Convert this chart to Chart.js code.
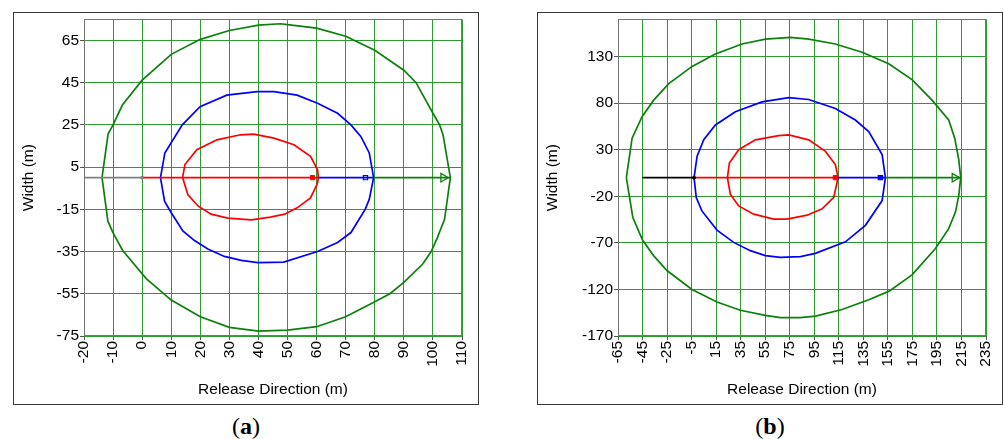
<!DOCTYPE html>
<html lang="en">
<head>
<meta charset="UTF-8">
<title>Release contours</title>
<script src="https://cdn.jsdelivr.net/npm/chart.js@4.4.1/dist/chart.umd.min.js"></script>
<style>
    body { margin: 0; background: #fff; width: 1004px; height: 439px; position: relative; overflow: hidden; }
    .frame { position: absolute; top: 12px; width: 466px; height: 393px; box-sizing: border-box; border: 1px solid #3a3a3a; }
    .frame canvas { position: absolute; left: 0; top: 0; }
    .caption { position: absolute; top: 412px; width: 100px; text-align: center; font: 24px 'Liberation Serif', serif; line-height: 28px; color: #000; }
</style>
</head>
<body>
<div class="frame" style="left:13px"><canvas id="chartA" width="464" height="391"></canvas></div>
<div class="frame" style="left:537px"><canvas id="chartB" width="464" height="391"></canvas></div>
<div class="caption" style="left:196px">(<b>a</b>)</div>
<div class="caption" style="left:720px">(<b>b</b>)</div>

<script>
    // ---- panel (a) ----
    const xTicksA = [-20, -10, 0, 10, 20, 30, 40, 50, 60, 70, 80, 90, 100, 110];
    const yTicksA = [-75, -55, -35, -15, 5, 25, 45, 65];
    const xRangeA = [-20, 110];
    const yRangeA = [-75, 75];

    const greenA = [[-13.8, 0], [-11.7, 20.8], [-10, 25], [-6.8, 34.4], [0, 46.2], [10, 58.4], [20, 65.5],
        [30, 69.7], [40, 72.2], [47.6, 72.9], [50, 72.5], [60, 70.8], [70, 67], [80, 60.3], [90, 50.9],
        [94.2, 45], [100, 30.5], [102.3, 25], [103.5, 20.2], [106, 0], [104, -19.7], [101.5, -28.5], [99.4, -35],
        [96.5, -40.9], [90, -49.6], [85.2, -55], [80, -58.8], [70, -65.9], [60, -70.6], [50, -72.2], [40, -72.7],
        [30, -70.9], [20, -65.9], [10, -58], [1.4, -47.8], [-6.7, -34.5], [-10.1, -25.9], [-11.8, -20.5], [-13.8, 0]];
    const blueA = [[6.3, 0], [7.8, 11.7], [13.8, 25], [19.9, 33.6], [29.1, 39.1], [39.5, 40.7], [45.3, 40.7],
        [53.3, 39.1], [60.3, 35.2], [67.2, 30.5], [71.8, 25], [75.2, 19.5], [78.1, 11.7], [79.6, 0], [78.1, -10.3],
        [76.7, -15], [71.8, -26], [67.2, -30.7], [60.3, -35], [48.7, -40], [39.8, -40.2], [34.1, -39.2],
        [28.3, -37.3], [22.6, -33.8], [18, -29.8], [14, -25.2], [10, -16.6], [7.7, -11.1], [6.3, 0]];
    const redA = [[13.9, 0], [14.7, 6.2], [18.8, 13.2], [25.7, 17.9], [33.8, 20.3], [38.4, 20.6], [45.3, 18.7],
        [52.2, 15.6], [57.9, 10.1], [60.3, 3.8], [60.6, 0], [60.3, -2.7], [57.9, -9.6], [53.3, -14.3], [49, -17.3],
        [44.1, -18.7], [37.5, -20], [29.5, -19.2], [23.7, -17.3], [19.2, -13.4], [15.7, -8], [14.3, -1.7], [13.9, 0]];
    // release direction arrow: start, then end of each coloured stage
    const stagesA = [-20, 0, 60.6, 79.6, 106];
    const markersA = [0, 58.6, 76.8, 103.6];

    // ---- panel (b) ----
    const xTicksB = [-65, -45, -25, -5, 15, 35, 55, 75, 95, 115, 135, 155, 175, 195, 215, 235];
    const yTicksB = [-170, -120, -70, -20, 30, 80, 130];
    const xRangeB = [-65, 235];
    const yRangeB = [-170, 170];

    const greenB = [[-58.2, 0], [-53.5, 42.4], [-45.4, 65.5], [-35.9, 83.2], [-23.6, 100.9], [-4.6, 119.4],
        [14.4, 132.8], [36.1, 143.5], [55.2, 148.8], [75.5, 150.6], [90.5, 148.8], [112.2, 143.5], [134, 134.6],
        [155.7, 122.2], [174.7, 105.2], [191, 83.2], [204.6, 62], [209.5, 42.4], [212.8, 19.4], [214.4, 0],
        [212.8, -19.3], [210.1, -37], [204.6, -54.8], [193.8, -76], [174.7, -104.4], [155.7, -122.1], [139.4, -131],
        [117.7, -141.6], [95.9, -148.7], [83.7, -150.2], [67.4, -150.2], [55.1, -147.8], [34.7, -142.4],
        [15.7, -133.5], [-4.7, -120], [-25.1, -99.7], [-36, -83.7], [-45, -67], [-52.9, -42.8], [-58.2, 0]];
    const blueB = [[-3, 0], [-0.5, 23], [4.9, 40.8], [14.4, 56.6], [30.7, 70.8], [52.4, 81.4], [74.2, 86],
        [90.5, 83.9], [112.2, 74.3], [128.5, 61.9], [139.4, 49.5], [150.3, 24.7], [153, 0], [150.3, -24.6],
        [136.7, -51.2], [120.4, -68.9], [95.9, -81.3], [83.7, -84.8], [67.4, -85.5], [55.1, -83.7], [42.9, -78.4],
        [29.3, -69.5], [15.7, -56.3], [3.4, -35.7], [-1.2, -21.4], [-3, 0]];
    const redB = [[24.2, 0], [25.8, 15.6], [33.4, 30], [47, 40.6], [66, 45.2], [74.2, 45.9], [90.5, 40.6],
        [104.1, 28.2], [112.2, 14], [114.4, 0], [110.9, -21.1], [101.4, -33.5], [89.2, -40.3], [72.8, -44.6],
        [61.9, -44.6], [45.6, -39.2], [33.4, -30.3], [26.6, -17.9], [24.2, 0]];
    const stagesB = [-45, -3, 114.4, 153, 214.4];
    const markersB = [-3, 112.2, 148.9, 209.5];

    const centerline = 0;

    Chart.defaults.font.family = "Arial, 'Liberation Sans', sans-serif";
    Chart.defaults.color = '#000';

    const GRID = '#2f9a2f';
    const TICK_FONT = { size: 15.5 };
    const TITLE_FONT = { size: 15.5 };

    const plotBorder = {
        id: 'plotBorder',
        afterDatasetsDraw(chart) {
            const { ctx, chartArea: a } = chart;
            ctx.save();
            ctx.strokeStyle = '#767676';
            ctx.lineWidth = 1;
            ctx.strokeRect(Math.round(a.left) + 0.5, Math.round(a.top) + 0.5,
                Math.round(a.right - a.left) - 1, Math.round(a.bottom - a.top) - 1);
            ctx.restore();
        }
    };

    function toPoints(arr) {
        return arr.map(p => ({ x: p[0], y: p[1] }));
    }

    function lineSet(points, color, width) {
        return {
            data: points, showLine: true, borderColor: color, borderWidth: width,
            pointRadius: 0, fill: false, tension: 0
        };
    }

    function markerSet(x, style) {
        return Object.assign({ data: [{ x: x, y: centerline }], showLine: false }, style);
    }

    function drawPanel(id, p) {
        const stageColors = [p.leadColor, '#ff0000', '#0000ff', '#0b800b'];
        const datasets = [];

        const markerStyles = [
            { pointStyle: 'circle', pointRadius: 1.5, borderColor: p.leadColor, backgroundColor: p.leadColor, borderWidth: 1 },
            { pointStyle: 'rect', pointRadius: 3, borderColor: '#ff0000', backgroundColor: '#ff0000', borderWidth: 1 },
            { pointStyle: 'rect', pointRadius: 3, borderColor: '#0000ff', backgroundColor: p.blueFill, borderWidth: 1.2 },
            { pointStyle: 'triangle', pointRotation: 90, pointRadius: 5, borderColor: '#0b800b', backgroundColor: 'rgba(0,0,0,0)', borderWidth: 1.3 }
        ];
        p.markers.forEach((x, i) => datasets.push(markerSet(x, markerStyles[i])));

        for (let i = 0; i < p.stages.length - 1; i++) {
            datasets.push(lineSet([{ x: p.stages[i], y: centerline }, { x: p.stages[i + 1], y: centerline }], stageColors[i], 1.6));
        }

        datasets.push(lineSet(toPoints(p.red), '#ff0000', 1.7));
        datasets.push(lineSet(toPoints(p.blue), '#0000ff', 1.7));
        datasets.push(lineSet(toPoints(p.green), '#0b800b', 1.7));

        new Chart(document.getElementById(id), {
            type: 'scatter',
            data: { datasets: datasets },
            options: {
                responsive: false,
                animation: false,
                events: [],
                layout: { padding: { left: 0, right: 16, top: 4, bottom: 0 } },
                plugins: { legend: { display: false }, tooltip: { enabled: false } },
                scales: {
                    x: {
                        type: 'linear',
                        min: p.xRange[0], max: p.xRange[1],
                        afterBuildTicks: axis => { axis.ticks = p.xTicks.map(v => ({ value: v })); },
                        afterFit: s => { s.height = 68; s.paddingLeft = 0; s.paddingRight = 0; },
                        grid: { color: GRID, lineWidth: 1, tickLength: 4, tickColor: '#555' },
                        border: { display: false },
                        ticks: {
                            autoSkip: false, minRotation: 90, maxRotation: 90, padding: 1,
                            font: TICK_FONT, color: '#000', callback: v => String(v)
                        },
                        title: { display: true, text: 'Release Direction (m)', font: TITLE_FONT, color: '#000', padding: { top: 4, bottom: 4.7 } }
                    },
                    y: {
                        type: 'linear',
                        min: p.yRange[0], max: p.yRange[1],
                        afterBuildTicks: axis => { axis.ticks = p.yTicks.map(v => ({ value: v })); },
                        afterFit: s => { s.width = p.yAxisWidth; s.paddingTop = 0; s.paddingBottom = 0; },
                        grid: { color: GRID, lineWidth: 1, tickLength: 4, tickColor: '#555' },
                        border: { display: false },
                        ticks: { autoSkip: false, padding: 1, font: TICK_FONT, color: '#000', callback: v => String(v) },
                        title: { display: true, text: 'Width (m)', font: TITLE_FONT, color: '#000', padding: { top: 5, bottom: 0 } }
                    }
                }
            },
            plugins: [plotBorder]
        });
    }

    drawPanel('chartA', {
        xTicks: xTicksA, yTicks: yTicksA, xRange: xRangeA, yRange: yRangeA,
        green: greenA, blue: blueA, red: redA, stages: stagesA, markers: markersA,
        leadColor: '#808080', blueFill: 'rgba(0,0,0,0)', yAxisWidth: 70
    });

    drawPanel('chartB', {
        xTicks: xTicksB, yTicks: yTicksB, xRange: xRangeB, yRange: yRangeB,
        green: greenB, blue: blueB, red: redB, stages: stagesB, markers: markersB,
        leadColor: '#000000', blueFill: '#0000ff', yAxisWidth: 80
    });
</script>
</body>
</html>
